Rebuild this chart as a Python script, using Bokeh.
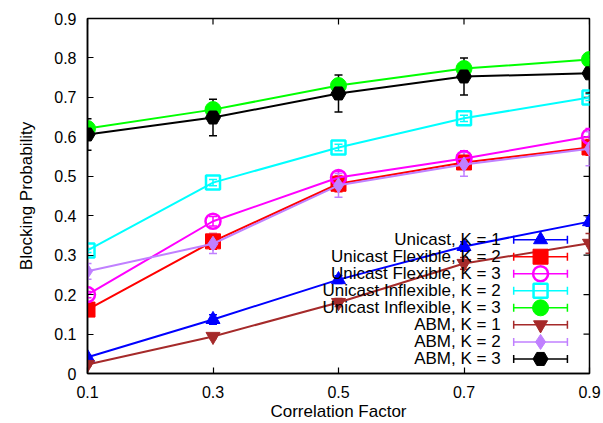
from bokeh.plotting import figure
from bokeh.models import FixedTicker, Whisker, ColumnDataSource, TeeHead, Range1d
from bokeh.embed import file_html
from bokeh.resources import INLINE
from bokeh.core.properties import value

x = [0.1, 0.3, 0.5, 0.7, 0.9]
x_ticks = [0.1, 0.3, 0.5, 0.7, 0.9]
y_ticks = [0, 0.1, 0.2, 0.3, 0.4, 0.5, 0.6, 0.7, 0.8, 0.9]
y_tick_labels = ["0", "0.1", "0.2", "0.3", "0.4", "0.5", "0.6", "0.7", "0.8", "0.9"]

names = ["Unicast, K = 1", "Unicast Flexible, K = 2", "Unicast Flexible, K = 3",
         "Unicast Inflexible, K = 2", "Unicast Inflexible, K = 3",
         "ABM, K = 1", "ABM, K = 2", "ABM, K = 3"]

unicast_k1 = [0.041, 0.137, 0.238, 0.322, 0.385]
flex_k2 = [0.162, 0.335, 0.481, 0.535, 0.573]
flex_k3 = [0.200, 0.386, 0.497, 0.545, 0.601]
inflex_k2 = [0.312, 0.484, 0.573, 0.647, 0.700]
inflex_k3 = [0.621, 0.669, 0.730, 0.773, 0.796]
abm_k1 = [0.023, 0.094, 0.180, 0.279, 0.330]
abm_k2 = [0.259, 0.329, 0.477, 0.530, 0.570]
abm_k3 = [0.606, 0.649, 0.710, 0.753, 0.761]

err_unicast_k1 = [0.005, 0.012, 0.010, 0.012, 0.012]
err_flex_k2 = [0.008, 0.020, 0.020, 0.015, 0.020]
err_flex_k3 = [0.008, 0.012, 0.015, 0.020, 0.020]
err_inflex_k2 = [0.005, 0.008, 0.008, 0.008, 0.008]
err_inflex_k3 = [0.008, 0.010, 0.010, 0.010, 0.010]
err_abm_k1 = [0.004, 0.005, 0.010, 0.015, 0.025]
err_abm_k2 = [0.020, 0.025, 0.030, 0.030, 0.043]
err_abm_k3 = [0.040, 0.046, 0.047, 0.047, 0.050]

series = [unicast_k1, flex_k2, flex_k3, inflex_k2, inflex_k3, abm_k1, abm_k2, abm_k3]
errors = [err_unicast_k1, err_flex_k2, err_flex_k3, err_inflex_k2, err_inflex_k3,
          err_abm_k1, err_abm_k2, err_abm_k3]
colors = ["#0000ff", "#ff0000", "#ff00ff", "#00ffff", "#00ff00", "#a52a2a", "#c080ff", "#000000"]
markers = ["triangle", "square", "circle", "square", "circle", "inverted_triangle", "diamond", "hex"]
fills = [True, True, False, False, True, True, True, True]
sizes = [14, 15, 15, 14, 16, 14, 15, 15]

FONT = "Liberation Sans"
W, H = 603, 423
BL, BR, BT, BB = 87, 14, 18, 50
FW, FH = W - BL - BR, H - BT - BB
X0, X1, Y0, Y1 = 0.1, 0.9, 0.0, 0.9

p = figure(width=W, height=H, output_backend="svg", toolbar_location=None,
           x_range=Range1d(X0, X1), y_range=Range1d(Y0, Y1),
           min_border_left=BL, min_border_right=BR, min_border_top=BT, min_border_bottom=BB)
p.xgrid.visible = False
p.ygrid.visible = False
p.outline_line_color = "black"
p.outline_line_width = 1.5
p.background_fill_color = "white"
p.border_fill_color = "white"

for ax in (p.xaxis[0], p.yaxis[0]):
    ax.major_tick_in = 6
    ax.major_tick_out = 0
    ax.minor_tick_in = 0
    ax.minor_tick_out = 0
    ax.major_tick_line_color = "black"
    ax.major_tick_line_width = 1.2
    ax.axis_line_color = "black"
    ax.axis_line_width = 1.5
    ax.major_label_text_font = FONT
    ax.major_label_text_font_size = "16px"
    ax.major_label_text_color = "black"
    ax.axis_label_text_font = FONT
    ax.axis_label_text_font_size = "17px"
    ax.axis_label_text_font_style = "normal"
    ax.axis_label_text_color = "black"

p.xaxis.ticker = FixedTicker(ticks=x_ticks)
p.yaxis.ticker = FixedTicker(ticks=y_ticks)
p.yaxis.major_label_overrides = {t: l for t, l in zip(y_ticks, y_tick_labels)}
p.xaxis.major_label_overrides = {t: str(t) for t in x_ticks}
p.xaxis.axis_label = "Correlation Factor"
p.yaxis.axis_label = "Blocking Probability"
p.xaxis.major_label_standoff = 12
p.yaxis.major_label_standoff = 11
p.xaxis.axis_label_standoff = 1
p.yaxis.axis_label_standoff = 15

# mirrored inward ticks on top and right (gnuplot style)
tlx = 6 / FW * (X1 - X0)
tly = 6 / FH * (Y1 - Y0)
p.segment(x0=x_ticks, y0=[Y1] * len(x_ticks), x1=x_ticks, y1=[Y1 - tly] * len(x_ticks),
          line_color="black", line_width=1.2)
p.segment(x0=[X1] * len(y_ticks), y0=y_ticks, x1=[X1 - tlx] * len(y_ticks), y1=y_ticks,
          line_color="black", line_width=1.2)

for ys, es, c, m, f, s in zip(series, errors, colors, markers, fills, sizes):
    src = ColumnDataSource(dict(x=x, y=ys,
                                lo=[a - b for a, b in zip(ys, es)],
                                hi=[a + b for a, b in zip(ys, es)]))
    p.line("x", "y", source=src, line_color=c, line_width=2)
    w = Whisker(source=src, base="x", lower="lo", upper="hi", line_color=c, line_width=1.5,
                upper_head=TeeHead(size=8, line_color=c, line_width=1.5),
                lower_head=TeeHead(size=8, line_color=c, line_width=1.5))
    p.add_layout(w)
    if f:
        p.scatter("x", "y", source=src, marker=m, size=s, fill_color=c, line_color=c)
    else:
        p.scatter("x", "y", source=src, marker=m, size=s, fill_color=None, line_color=c,
                  line_width=2.5)

# manual key (gnuplot style: label left, sample right)
text_x = X0 + (X1 - X0) * 0.823
seg_x0 = X0 + (X1 - X0) * 0.849
seg_x1 = X0 + (X1 - X0) * 0.956
mark_x = (seg_x0 + seg_x1) / 2
row0 = Y1 * 0.377
dy = Y1 * 0.048
cap = 4 / FH * (Y1 - Y0)
for i, (n, c, m, f, s) in enumerate(zip(names, colors, markers, fills, sizes)):
    yy = row0 - i * dy
    p.text(x=[text_x], y=[yy], text=[n], text_font=value(FONT), text_font_size="17px",
           text_align="right", text_baseline="middle", text_color="black")
    p.segment(x0=[seg_x0], y0=[yy], x1=[seg_x1], y1=[yy], line_color=c, line_width=1.5)
    p.segment(x0=[seg_x0, seg_x1], y0=[yy - cap, yy - cap], x1=[seg_x0, seg_x1],
              y1=[yy + cap, yy + cap], line_color=c, line_width=1.5)
    if f:
        p.scatter(x=[mark_x], y=[yy], marker=m, size=s, fill_color=c, line_color=c)
    else:
        p.scatter(x=[mark_x], y=[yy], marker=m, size=s, fill_color=None, line_color=c,
                  line_width=2.5)

open("out.html", "w").write(file_html(p, INLINE))
